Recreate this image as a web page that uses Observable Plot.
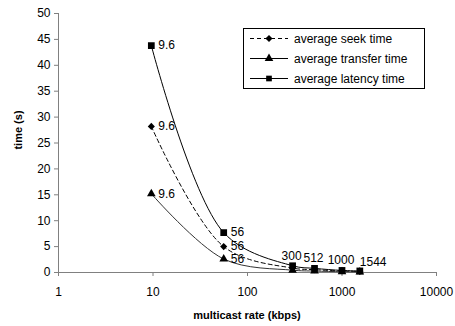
<!DOCTYPE html>
<html>
<head>
<meta charset="utf-8">
<script src="https://cdn.jsdelivr.net/npm/d3@7"></script>
<script src="https://cdn.jsdelivr.net/npm/@observablehq/plot@0.6"></script>
<style>
  body { margin: 0; background: #fff; }
  #chart { width: 455px; height: 326px; }
</style>
</head>
<body>
<div id="chart"></div>
<script>
// Multicast rates (kbps) at which each time was measured
const rates = [9.6, 56, 300, 512, 1000, 1544];

// Times in seconds for each rate
const seekTime = [28.2, 5.0, 0.85, 0.55, 0.28, 0.18];
const transferTime = [15.2, 2.6, 0.45, 0.28, 0.15, 0.1];
const latencyTime = [43.8, 7.7, 1.3, 0.8, 0.4, 0.3];

// Axis ticks
const xTicks = [1, 10, 100, 1000, 10000];
const yTicks = [0, 5, 10, 15, 20, 25, 30, 35, 40, 45, 50];

const seriesNames = ["average seek time", "average transfer time", "average latency time"];
const seriesValues = [seekTime, transferTime, latencyTime];
const seriesStyle = {
  "average seek time": {symbol: "diamond2", r: 3.2, dash: "4,3", stroke: "#000"},
  "average transfer time": {symbol: "triangle", r: 3.2, dash: null, stroke: "#333"},
  "average latency time": {symbol: "square", r: 3.8, dash: null, stroke: "#000"}
};

const rows = seriesNames.flatMap((name, s) =>
  rates.map((rate, i) => ({series: name, rate, time: seriesValues[s][i], label: String(rate)}))
);

const font = "'Liberation Sans', Arial, sans-serif";

const marks = [
  // axis lines
  Plot.ruleY([0], {stroke: "#808080"}),
  Plot.ruleX([1], {stroke: "#808080"}),
  Plot.axisX({ticks: xTicks, tickFormat: d => String(d), tickSize: 4, tickPadding: 11, stroke: "#808080", label: null}),
  Plot.axisY({ticks: yTicks, tickSize: 4, tickPadding: 4, stroke: "#808080", label: null})
];

for (const name of seriesNames) {
  const st = seriesStyle[name];
  const data = rows.filter(d => d.series === name);
  marks.push(Plot.line(data, {
    x: "rate", y: "time", curve: "catmull-rom",
    stroke: st.stroke, strokeWidth: 1,
    strokeDasharray: st.dash ?? undefined
  }));
  marks.push(Plot.dot(data, {x: "rate", y: "time", symbol: () => st.symbol, r: st.r, fill: "#000", stroke: "none"}));
}

// point labels: every series at the two lowest rates
marks.push(Plot.text(rows.filter(d => d.rate < 100), {
  x: "rate", y: "time", text: "label", textAnchor: "start", dx: 7, fontSize: 12, fill: "#000"
}));
// the higher rates are labelled once, above the latency points
const highRows = rows.filter(d => d.series === "average latency time" && d.rate > 100);
marks.push(Plot.text(highRows.filter(d => d.rate < 1500), {
  x: "rate", y: "time", text: "label", textAnchor: "middle", dx: -1, dy: -10, fontSize: 12, fill: "#000"
}));
marks.push(Plot.text(highRows.filter(d => d.rate >= 1500), {
  x: "rate", y: "time", text: "label", textAnchor: "start", dx: 0, dy: -9, fontSize: 12, fill: "#000"
}));

const chart = Plot.plot({
  width: 455,
  height: 326,
  marginLeft: 58,
  marginRight: 19,
  marginTop: 13,
  marginBottom: 54,
  style: {fontFamily: font, fontSize: "12px", background: "#fff", color: "#000", overflow: "visible"},
  x: {type: "log", domain: [1, 10000]},
  y: {domain: [0, 50]},
  symbol: {type: "identity"},
  marks
});

document.getElementById("chart").appendChild(chart);

const svg = d3.select(chart);

// axis titles
svg.append("text")
  .attr("x", 247).attr("y", 319)
  .attr("text-anchor", "middle")
  .attr("font-family", font).attr("font-size", 11).attr("font-weight", "bold")
  .text("multicast rate (kbps)");
svg.append("text")
  .attr("transform", "translate(22,130) rotate(-90)")
  .attr("text-anchor", "middle")
  .attr("font-family", font).attr("font-size", 11).attr("font-weight", "bold")
  .text("time (s)");

// legend box
const legend = svg.append("g")
  .attr("transform", "translate(243,28)")
  .attr("text-anchor", "start");
legend.append("rect")
  .attr("x", 0.5).attr("y", 0.5).attr("width", 181).attr("height", 60)
  .attr("fill", "#fff").attr("stroke", "#000");
const symbolPaths = {
  "diamond2": d3.symbol(d3.symbolDiamond2, Math.PI * 3.2 * 3.2)(),
  "triangle": d3.symbol(d3.symbolTriangle, Math.PI * 3.2 * 3.2)(),
  "square": d3.symbol(d3.symbolSquare, Math.PI * 3.2 * 3.2)()
};
seriesNames.forEach((name, i) => {
  const st = seriesStyle[name];
  const cy = 10.5 + i * 20;
  legend.append("line")
    .attr("x1", 7).attr("x2", 45).attr("y1", cy).attr("y2", cy)
    .attr("stroke", "#000").attr("stroke-width", 1)
    .attr("stroke-dasharray", st.dash);
  legend.append("path")
    .attr("d", symbolPaths[st.symbol])
    .attr("transform", `translate(26,${cy})`)
    .attr("fill", "#000");
  legend.append("text")
    .attr("x", 51).attr("y", cy).attr("dy", "0.35em")
    .attr("text-anchor", "start")
    .attr("font-family", font).attr("font-size", 12)
    .text(name);
});
</script>
</body>
</html>
